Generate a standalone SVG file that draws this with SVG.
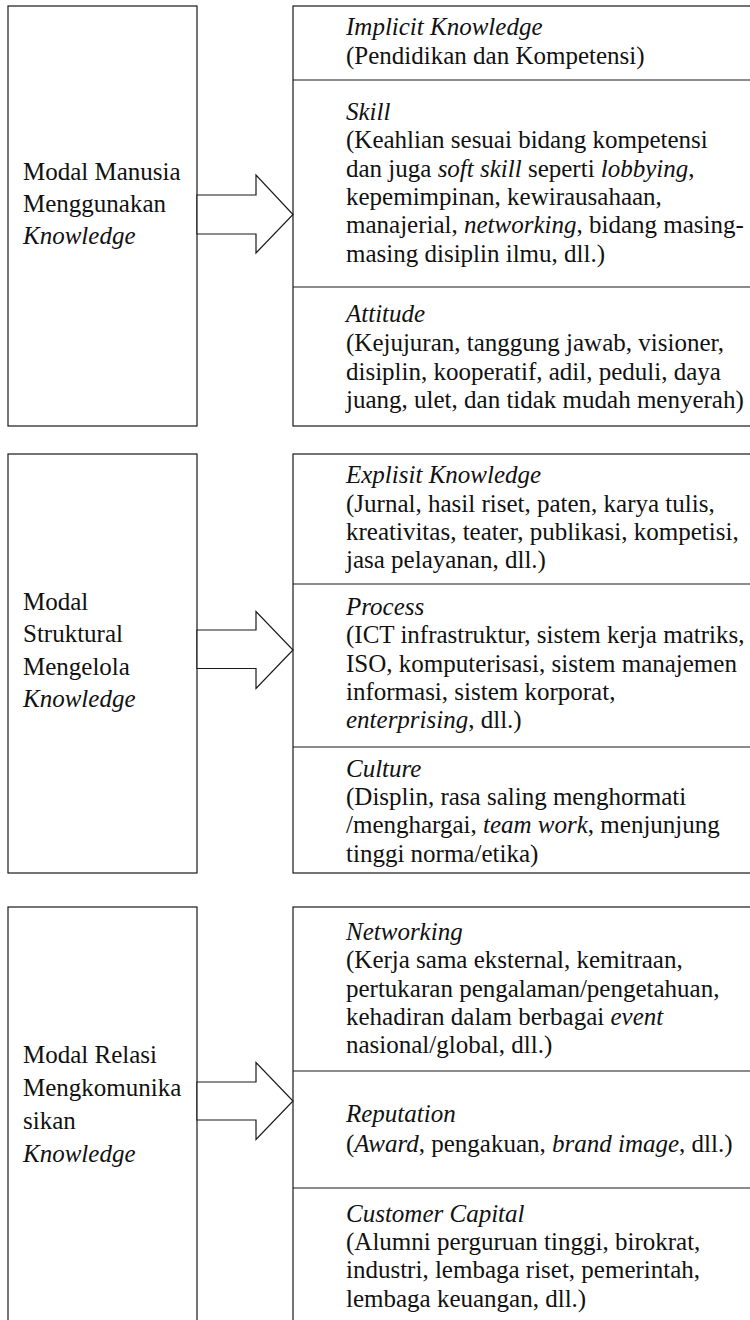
<svg xmlns="http://www.w3.org/2000/svg" width="750" height="1320" viewBox="0 0 750 1320">
<style>
.box{fill:#fff;stroke:#1a1a1a;stroke-width:1.2}
.div{stroke:#1a1a1a;stroke-width:1.2}
.arr{fill:#fff;stroke:#1a1a1a;stroke-width:1.2;stroke-linejoin:miter}
.t{font-family:'Liberation Serif','DejaVu Serif',serif;font-size:25px;fill:#111}
.i{font-style:italic}
</style>
<rect width="750" height="1320" fill="#fff"/>

<!-- Panel 1 -->
<g id="modal-manusia">
<rect class="box" x="8" y="6" width="189" height="420"/>
<text class="t" font-family="Liberation Serif, serif"><tspan x="23" y="180">Modal Manusia</tspan><tspan x="23" y="212">Menggunakan</tspan><tspan x="23" y="244" class="i">Knowledge</tspan></text>
</g>
<g id="manusia-list">
<rect class="box" x="293" y="6" width="460" height="420"/>
<line class="div" x1="293" y1="80" x2="750" y2="80"/>
<line class="div" x1="293" y1="287" x2="750" y2="287"/>
<text class="t" font-family="Liberation Serif, serif"><tspan x="346" y="35" class="i">Implicit Knowledge</tspan><tspan x="346" y="64">(Pendidikan dan Kompetensi)</tspan></text>
<text class="t" font-family="Liberation Serif, serif"><tspan x="346" y="120" class="i">Skill</tspan><tspan x="346" y="148">(Keahlian sesuai bidang kompetensi</tspan><tspan x="346" y="177">dan juga <tspan class="i">soft skill</tspan> seperti <tspan class="i">lobbying</tspan>,</tspan><tspan x="346" y="205">kepemimpinan, kewirausahaan,</tspan><tspan x="346" y="233">manajerial, <tspan class="i">networking</tspan>, bidang masing-</tspan><tspan x="346" y="262">masing disiplin ilmu, dll.)</tspan></text>
<text class="t" font-family="Liberation Serif, serif"><tspan x="346" y="322" class="i">Attitude</tspan><tspan x="346" y="351">(Kejujuran, tanggung jawab, visioner,</tspan><tspan x="346" y="380">disiplin, kooperatif, adil, peduli, daya</tspan><tspan x="346" y="408">juang, ulet, dan tidak mudah menyerah)</tspan></text>
</g>

<!-- Panel 2 -->
<g id="modal-struktural">
<rect class="box" x="8" y="454" width="189" height="419"/>
<text class="t" font-family="Liberation Serif, serif"><tspan x="23" y="610">Modal</tspan><tspan x="23" y="642">Struktural</tspan><tspan x="23" y="675">Mengelola</tspan><tspan x="23" y="707" class="i">Knowledge</tspan></text>
</g>
<g id="struktural-list">
<rect class="box" x="293" y="454" width="460" height="419"/>
<line class="div" x1="293" y1="584" x2="750" y2="584"/>
<line class="div" x1="293" y1="747" x2="750" y2="747"/>
<text class="t" font-family="Liberation Serif, serif"><tspan x="346" y="483" class="i">Explisit Knowledge</tspan><tspan x="346" y="512">(Jurnal, hasil riset, paten, karya tulis,</tspan><tspan x="346" y="540">kreativitas, teater, publikasi, kompetisi,</tspan><tspan x="346" y="568">jasa pelayanan, dll.)</tspan></text>
<text class="t" font-family="Liberation Serif, serif"><tspan x="346" y="615" class="i">Process</tspan><tspan x="346" y="643">(ICT infrastruktur, sistem kerja matriks,</tspan><tspan x="346" y="672">ISO, komputerisasi, sistem manajemen</tspan><tspan x="346" y="700">informasi, sistem korporat,</tspan><tspan x="346" y="728"><tspan class="i">enterprising</tspan>, dll.)</tspan></text>
<text class="t" font-family="Liberation Serif, serif"><tspan x="346" y="777" class="i">Culture</tspan><tspan x="346" y="805">(Displin, rasa saling menghormati</tspan><tspan x="346" y="833">/menghargai, <tspan class="i">team work</tspan>, menjunjung</tspan><tspan x="346" y="862">tinggi norma/etika)</tspan></text>
</g>

<!-- Panel 3 -->
<g id="modal-relasi">
<rect class="box" x="8" y="907" width="189" height="430"/>
<text class="t" font-family="Liberation Serif, serif"><tspan x="23" y="1063">Modal Relasi</tspan><tspan x="23" y="1096">Mengkomunika</tspan><tspan x="23" y="1129">sikan</tspan><tspan x="23" y="1162" class="i">Knowledge</tspan></text>
</g>
<g id="relasi-list">
<rect class="box" x="293" y="907" width="460" height="430"/>
<line class="div" x1="293" y1="1071" x2="750" y2="1071"/>
<line class="div" x1="293" y1="1188" x2="750" y2="1188"/>
<text class="t" font-family="Liberation Serif, serif"><tspan x="346" y="940" class="i">Networking</tspan><tspan x="346" y="968">(Kerja sama eksternal, kemitraan,</tspan><tspan x="346" y="997">pertukaran pengalaman/pengetahuan,</tspan><tspan x="346" y="1025">kehadiran dalam berbagai <tspan class="i">event</tspan></tspan><tspan x="346" y="1053">nasional/global, dll.)</tspan></text>
<text class="t" font-family="Liberation Serif, serif"><tspan x="346" y="1122" class="i">Reputation</tspan><tspan x="346" y="1152">(<tspan class="i">Award</tspan>, pengakuan, <tspan class="i">brand image</tspan>, dll.)</tspan></text>
<text class="t" font-family="Liberation Serif, serif"><tspan x="346" y="1222" class="i">Customer Capital</tspan><tspan x="346" y="1250">(Alumni perguruan tinggi, birokrat,</tspan><tspan x="346" y="1278">industri, lembaga riset, pemerintah,</tspan><tspan x="346" y="1307">lembaga keuangan, dll.)</tspan></text>
</g>

<!-- Connectors -->
<g id="connectors">
<polygon class="arr" points="197,195 256,195 256,175 293,214.5 256,253 256,234 197,234"/>
<polygon class="arr" points="197,630 256,630 256,611.5 293,650 256,688.5 256,668.5 197,668.5"/>
<polygon class="arr" points="197,1082 256,1082 256,1062.5 293,1101 256,1139.5 256,1120 197,1120"/>
</g>
</svg>
